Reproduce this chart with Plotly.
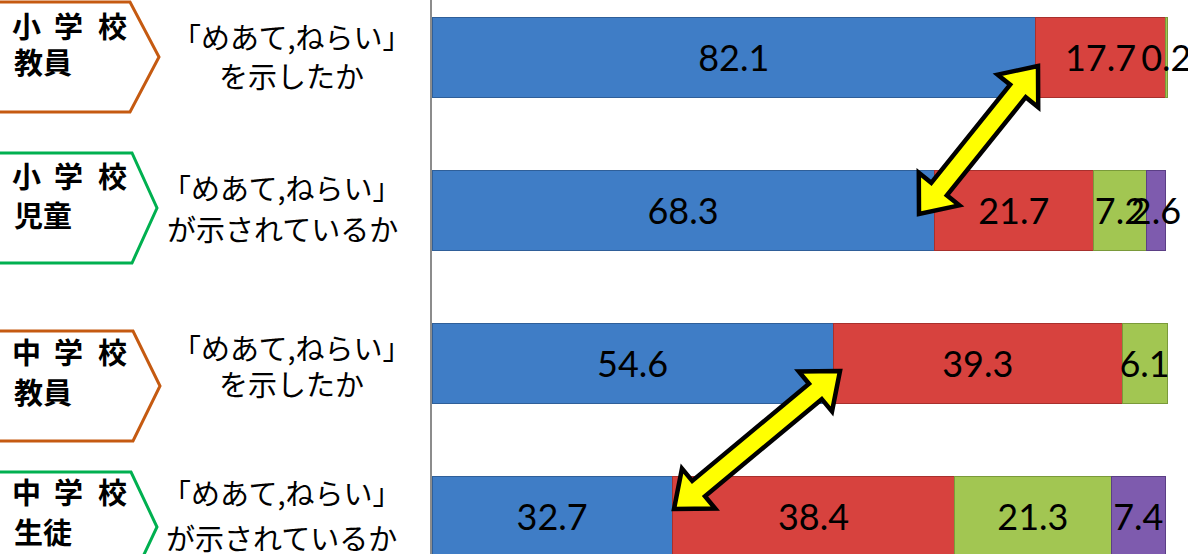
import math
import plotly.graph_objects as go

W, H = 1188, 554

# ---- data ----
categories = ["小学校教員", "小学校児童", "中学校教員", "中学校生徒"]
s1 = [82.1, 68.3, 54.6, 32.7]
s2 = [17.7, 21.7, 39.3, 38.4]
s3 = [0.2, 7.2, 6.1, 21.3]
s4 = [None, 2.6, None, 7.4]
colors = ["#3F7DC6", "#D7423E", "#A2C652", "#7E5BAE"]
line_colors = ["#2F5F99", "#A8302D", "#7A9A3A", "#5B3F85"]

box_top = ["小学校", "小学校", "中学校", "中学校"]
box_bottom = ["教員", "児童", "教員", "生徒"]
q_line1 = ["「めあて,ねらい」"] * 4
q_line2 = ["を示したか", "が示されているか", "を示したか", "が示されているか"]

CJK = "Noto Sans CJK JP"


def px(x):
    return x / W


def py(y):
    return 1 - y / H


fig = go.Figure()
for vals, c, lc in zip([s1, s2, s3, s4], colors, line_colors):
    fig.add_trace(go.Bar(
        y=categories, x=vals, orientation="h",
        marker=dict(color=c, line=dict(color=lc, width=1)),
        texttemplate="%{x:.1f}", textposition="inside",
        insidetextanchor="middle", textangle=0, constraintext="none",
        textfont=dict(family="Lato", size=36, color="black"),
        cliponaxis=False, showlegend=False,
    ))

shapes = []
# left chevron boxes (pixel geometry)
boxes = [
    (2, 112, 130, 159, "#C55A11"),
    (153, 263, 132, 157, "#00B050"),
    (331, 441, 133, 160, "#C55A11"),
    (472, 582, 131, 157, "#00B050"),
]
for top, bot, corner, tip, col in boxes:
    mid = (top + bot) / 2
    pts = [(-5, top), (corner, top), (tip, mid), (corner, bot), (-5, bot)]
    path = "M " + " L ".join(f"{px(x):.5f},{py(y):.5f}" for x, y in pts)
    shapes.append(dict(type="path", path=path, xref="paper", yref="paper",
                       line=dict(color=col, width=3), fillcolor="rgba(0,0,0,0)"))


def arrow_path(x1, y1, x2, y2, hl=32, hw=26, sw=10):
    dx, dy = x2 - x1, y2 - y1
    L = math.hypot(dx, dy)
    ux, uy = dx / L, dy / L
    nx, ny = -uy, ux
    b1 = (x1 + ux * hl, y1 + uy * hl)
    b2 = (x2 - ux * hl, y2 - uy * hl)
    pts = [
        (x1, y1),
        (b1[0] + nx * hw, b1[1] + ny * hw),
        (b1[0] + nx * sw, b1[1] + ny * sw),
        (b2[0] + nx * sw, b2[1] + ny * sw),
        (b2[0] + nx * hw, b2[1] + ny * hw),
        (x2, y2),
        (b2[0] - nx * hw, b2[1] - ny * hw),
        (b2[0] - nx * sw, b2[1] - ny * sw),
        (b1[0] - nx * sw, b1[1] - ny * sw),
        (b1[0] - nx * hw, b1[1] - ny * hw),
    ]
    return "M " + " L ".join(f"{px(x):.5f},{py(y):.5f}" for x, y in pts) + " Z"


for a in [(1038, 66, 919, 214), (840, 371, 674, 509)]:
    shapes.append(dict(type="path", path=arrow_path(*a), xref="paper", yref="paper",
                       line=dict(color="black", width=4.5), fillcolor="#FFFF00",
                       layer="above"))

annotations = []
top_y = [25, 175, 351, 491]
bot_y = [61, 214, 391, 531]
char_x = [26, 68, 112]
for i in range(4):
    for ch, cx in zip(box_top[i], char_x):
        annotations.append(dict(x=px(cx), y=py(top_y[i]), xref="paper", yref="paper",
                                text=f"<b>{ch}</b>", showarrow=False,
                                xanchor="center", yanchor="middle",
                                font=dict(family=CJK, size=29, color="black")))
    annotations.append(dict(x=px(12), y=py(bot_y[i]), xref="paper", yref="paper",
                            text=f"<b>{box_bottom[i]}</b>", showarrow=False,
                            xanchor="left", yanchor="middle",
                            font=dict(family=CJK, size=29, color="black")))

q1 = [(291, 36), (281, 187), (291, 347), (281, 492)]
q2 = [(291, 75), (282, 228), (291, 383), (281, 537)]
for i in range(4):
    for (x, y), t in [(q1[i], q_line1[i]), (q2[i], q_line2[i])]:
        annotations.append(dict(x=px(x), y=py(y), xref="paper", yref="paper",
                                text=t, showarrow=False,
                                xanchor="center", yanchor="middle",
                                font=dict(family=CJK, size=29, color="black")))

x0_px, x100_px = 432, 1167
ppu = (x100_px - x0_px) / 100
row_px = 153
row0_center = 57

fig.update_layout(
    width=W, height=H,
    margin=dict(l=0, r=0, t=0, b=0),
    paper_bgcolor="white", plot_bgcolor="white",
    barmode="stack", bargap=1 - 80 / row_px,
    uniformtext=dict(minsize=36, mode="show"),
    xaxis=dict(domain=[x0_px / W, 1], range=[0, (W - x0_px) / ppu],
               showgrid=False, zeroline=False, showticklabels=False, ticks=""),
    yaxis=dict(type="category", categoryorder="array", categoryarray=categories,
               range=[(H - row0_center) / row_px, -row0_center / row_px],
               showgrid=False, zeroline=False, showticklabels=False, ticks="",
               showline=True, linecolor="#8C8C8C", linewidth=2),
    shapes=shapes, annotations=annotations,
)

fig.write_html("out.html")
